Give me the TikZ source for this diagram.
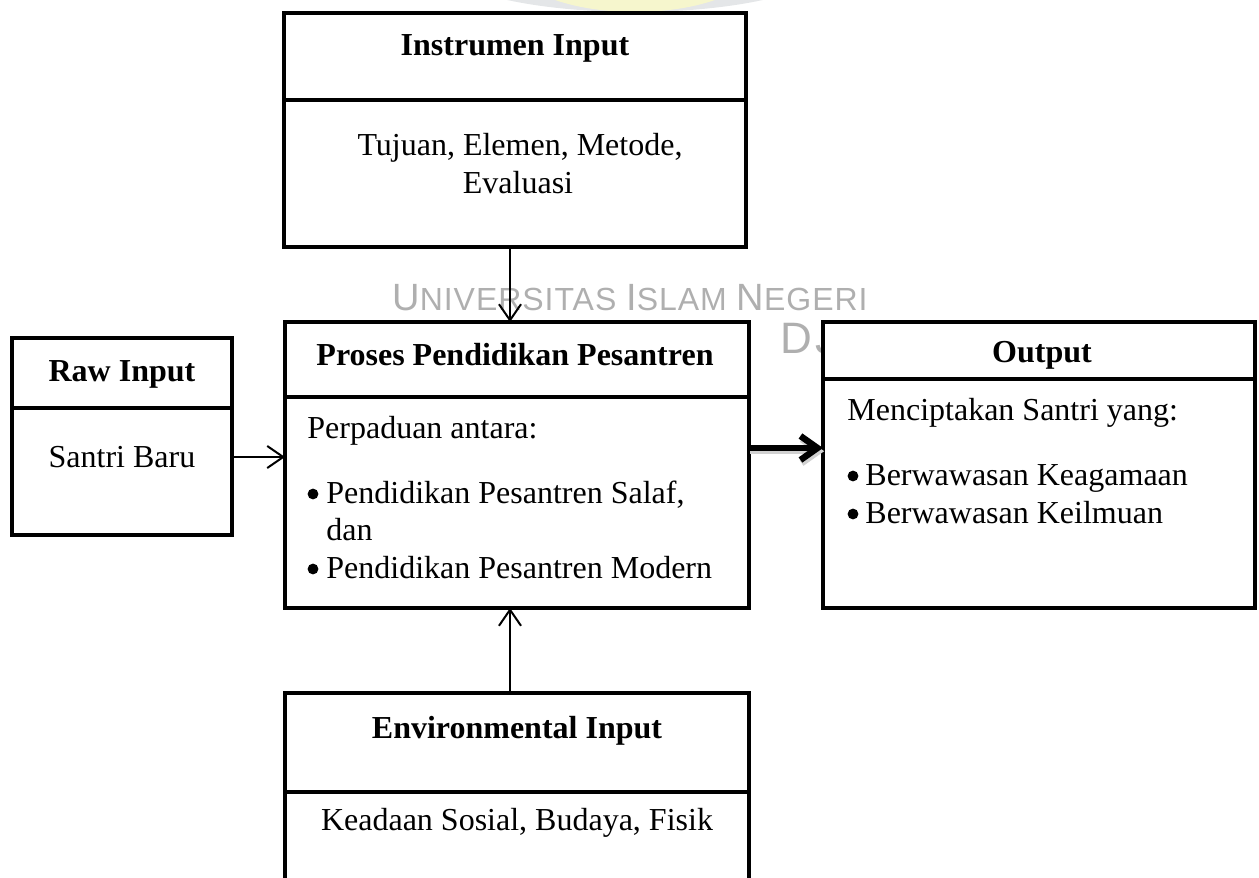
\documentclass[tikz,border=0pt]{standalone}
\usepackage{fontspec}
\setmainfont{Liberation Serif}
\newfontfamily\wmfont[LetterSpace=3]{Liberation Sans}
\newfontfamily\wmfontb[LetterSpace=8]{Liberation Sans}
\usetikzlibrary{arrows.meta,calc}
\definecolor{wmgray}{RGB}{175,175,175}
\definecolor{logogray}{RGB}{228,230,232}
\definecolor{logoyel}{RGB}{246,246,205}
\begin{document}
\begin{tikzpicture}[x=0.5pt,y=-0.5pt,
  box/.style={draw, line width=2.2pt, fill=white, inner sep=0pt, outer sep=0pt},
  txt/.style={font=\fontsize{16}{16}\selectfont, inner sep=0pt, anchor=base},
  btxt/.style={txt, font=\fontsize{16}{16}\selectfont\bfseries},
  ltxt/.style={txt, anchor=base west},
  dot/.style={circle, fill, inner sep=0pt, minimum size=5.4pt},
  wm/.style={text=wmgray, inner sep=0pt, anchor=base west},
  thinarrow/.style={line width=1pt, -{Straight Barb[length=8pt,width=11pt]}},
  thickarrow/.style={line width=3.2pt, -{Straight Barb[length=8.5pt,width=12pt]}}]
\useasboundingbox (0,0) rectangle (1259,878);
\clip (0,0) rectangle (1259,878);
% faint logo at the top
\fill[logogray] (635,-40) ellipse (200 and 52);
\fill[logoyel] (635,-40) ellipse (125 and 52);
% watermark
\node[wm] (wm1) at (392,310) {\wmfont\fontsize{19}{19}\selectfont U\fontsize{16}{16}\selectfont NIVERSITAS \fontsize{19}{19}\selectfont I\fontsize{16}{16}\selectfont SLAM \fontsize{19}{19}\selectfont N\fontsize{16}{16}\selectfont EGERI};
\node[wm] (wm2) at (780,353) {\wmfontb\fontsize{22}{22}\selectfont DJ};
% boxes
\node[box, minimum width=231pt, minimum height=43.5pt] (instH) at (515,56.5) {};
\node[box, minimum width=231pt, minimum height=73.5pt] (instB) at (515,173.5) {};
\node[box, minimum width=232pt, minimum height=37.5pt] (prH) at (517,359.5) {};
\node[box, minimum width=232pt, minimum height=105.5pt] (prB) at (517,502.5) {};
\node[box, minimum width=110pt, minimum height=35pt] (rawH) at (122,373) {};
\node[box, minimum width=110pt, minimum height=63.5pt] (rawB) at (122,471.5) {};
\node[box, minimum width=216pt, minimum height=28.5pt] (outH) at (1039,350.5) {};
\node[box, minimum width=216pt, minimum height=114.5pt] (outB) at (1039,493.5) {};
\node[box, minimum width=232pt, minimum height=49.5pt] (envH) at (517,742.5) {};
\node[box, minimum width=232pt, minimum height=54pt] (envB) at (517,846) {};
% texts
\node[btxt] (t1) at (515,55) {Instrumen Input};
\node[txt] (t2) at (520,155) {Tujuan, Elemen, Metode,};
\node[txt] (t3) at (518,193) {Evaluasi};
\node[btxt] (t4) at (515,365) {Proses Pendidikan Pesantren};
\node[ltxt] (t5) at (307,438) {Perpaduan antara:};
\node[dot] (b1) at (313,494) {};
\node[ltxt] (t6) at (326,503) {Pendidikan Pesantren Salaf,};
\node[ltxt] (t7) at (326,540) {dan};
\node[dot] (b2) at (313,569) {};
\node[ltxt] (t8) at (326,578) {Pendidikan Pesantren Modern};
\node[btxt] (t9) at (122,381) {Raw Input};
\node[txt] (t10) at (122,467) {Santri Baru};
\node[btxt] (t11) at (1042,362) {Output};
\node[ltxt] (t12) at (847,420) {Menciptakan Santri yang:};
\node[dot] (b3) at (853,476) {};
\node[ltxt] (t13) at (865,485) {Berwawasan Keagamaan};
\node[dot] (b4) at (853,514) {};
\node[ltxt] (t14) at (865,523) {Berwawasan Keilmuan};
\node[btxt] (t15) at (517,738) {Environmental Input};
\node[txt] (t16) at (517,830) {Keadaan Sosial, Budaya, Fisik};
% connectors
\coordinate (vx) at (510,0);
\coordinate (hy1) at (0,457);
\coordinate (hy2) at (0,448);
\draw[thinarrow] (instB.south -| vx) -- (prH.north -| vx);
\draw[thinarrow] (envH.north -| vx) -- (prB.south -| vx);
\draw[thinarrow] (rawB.east |- hy1) -- (prB.west |- hy1);
\draw[thickarrow, draw=black!18, transform canvas={shift={(0.6pt,-1.6pt)}}] (prB.east |- hy2) -- (outB.west |- hy2);
\draw[thickarrow] (prB.east |- hy2) -- (outB.west |- hy2);
\end{tikzpicture}
\end{document}
